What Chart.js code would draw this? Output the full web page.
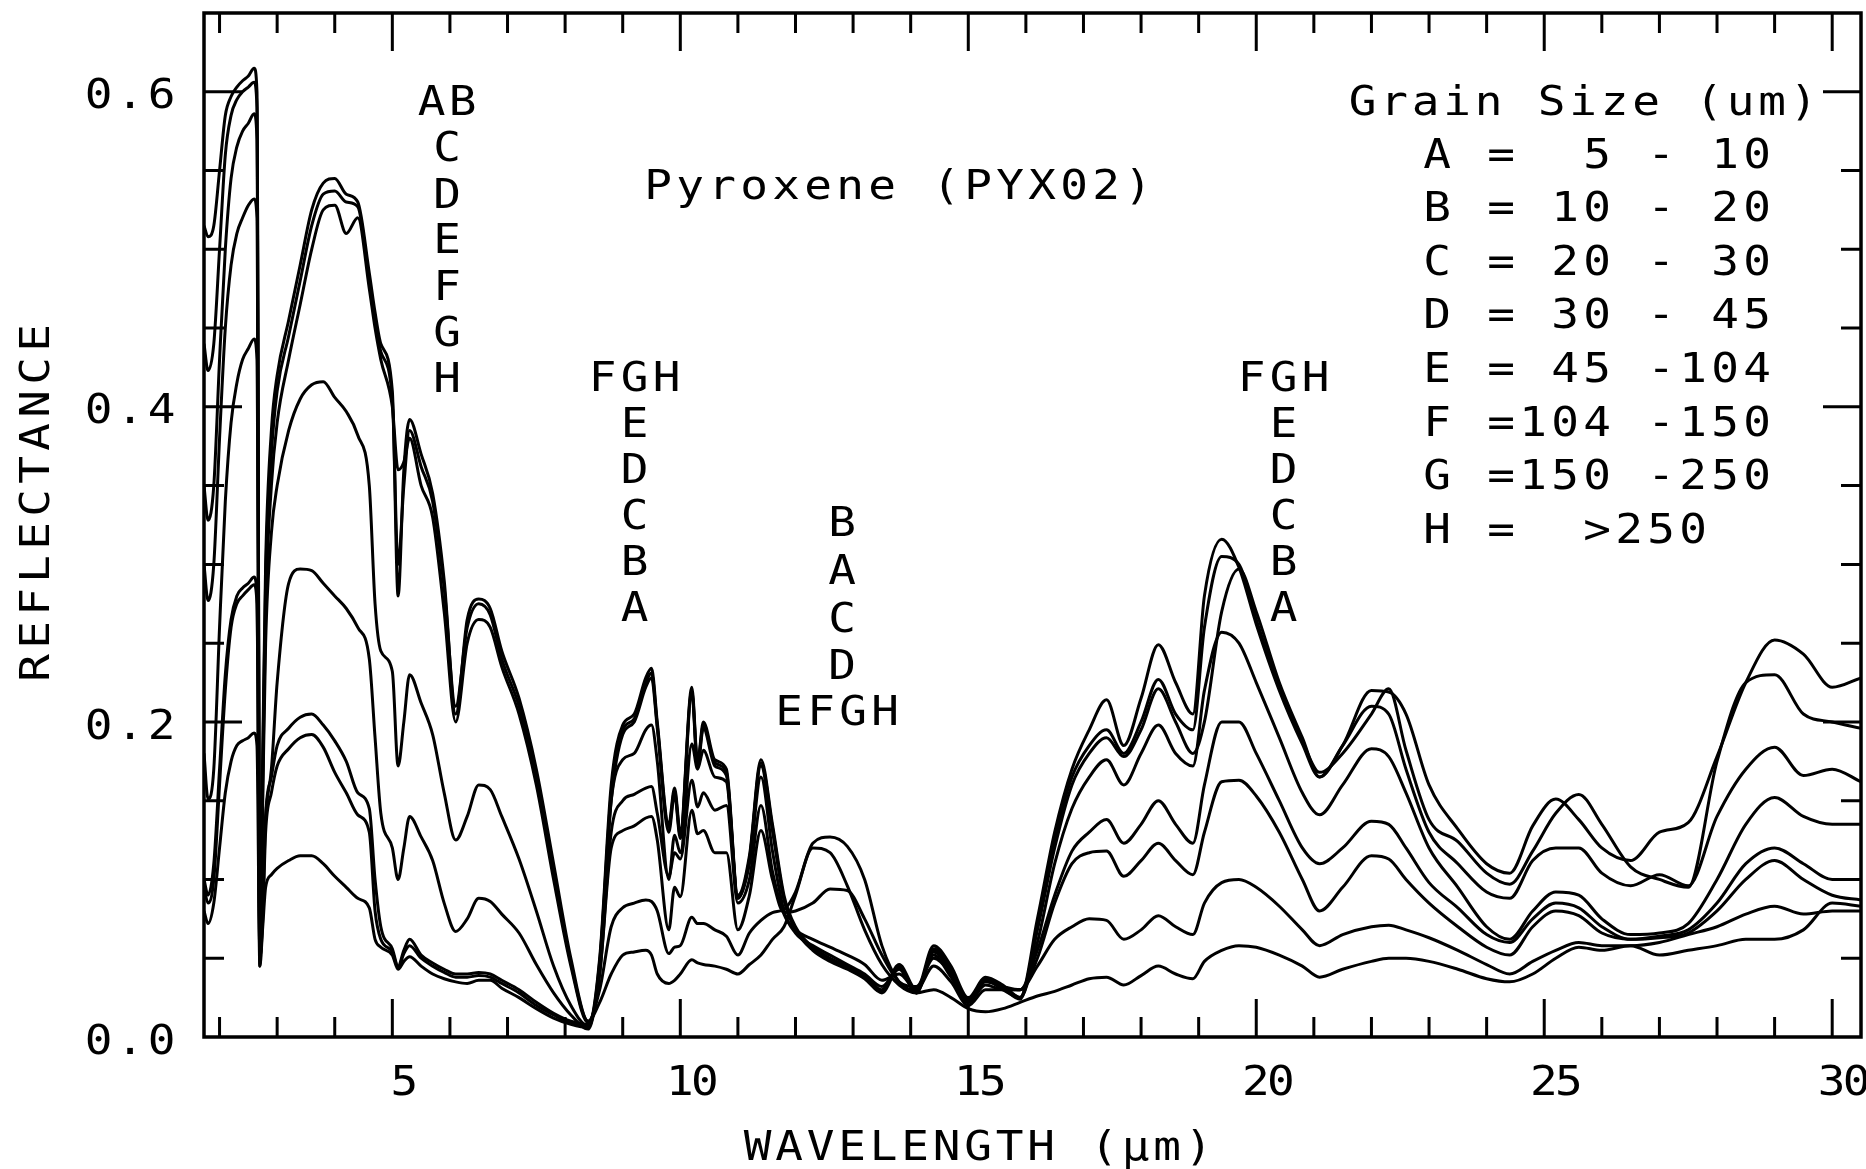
<!DOCTYPE html>
<html>
<head>
<meta charset="utf-8">
<script src="https://cdn.jsdelivr.net/npm/chart.js@4.4.1/dist/chart.umd.min.js"></script>
<style>
  html, body { margin: 0; padding: 0; background: #ffffff; }
  #wrap { width: 1866px; height: 1169px; }
</style>
</head>
<body>
<div id="wrap"><canvas id="myChart" width="1866" height="1169"></canvas></div>
<script>
// wavelength grid (um)
const wavelength = [
  1.73, 1.8, 1.9, 2.0, 2.1, 2.2, 2.3, 2.4, 2.5, 2.6, 2.65, 2.7, 2.75, 2.8, 2.9,
  3.0, 3.2, 3.4, 3.6, 3.8, 4.0, 4.2, 4.4, 4.6, 4.7,
  4.8, 5.0, 5.1, 5.2, 5.3, 5.5, 5.7, 5.9, 6.1, 6.3,
  6.5, 6.7, 6.9, 7.2, 7.5, 7.8, 8.1, 8.4, 8.6, 8.8,
  9.0, 9.2, 9.4, 9.5, 9.6, 9.8, 9.9, 10.0, 10.2, 10.3,
  10.4, 10.6, 10.8, 11.0, 11.2, 11.4, 11.6, 11.8, 12.0, 12.3,
  12.6, 12.9, 13.2, 13.5, 13.8, 14.1, 14.4, 14.7, 15.0, 15.3,
  15.6, 15.9, 16.2, 16.5, 16.8, 17.1, 17.4, 17.7, 18.0, 18.3,
  18.6, 18.9, 19.1, 19.4, 19.7, 20.0, 20.4, 20.8, 21.1, 21.5,
  22.0, 22.3, 22.6, 23.0, 23.5, 24.0, 24.4, 24.8, 25.2, 25.6,
  26.0, 26.5, 27.0, 27.5, 28.0, 28.5, 29.0, 29.5, 30.0, 30.5
];

// reflectance, grain size A (finest) .. H (coarsest)
const reflA = [
  0.515, 0.508, 0.515, 0.55, 0.585, 0.597, 0.603, 0.607, 0.61, 0.615, 0.60, 0.05, 0.18, 0.30, 0.385,
  0.42, 0.455, 0.49, 0.525, 0.542, 0.545, 0.535, 0.53, 0.485, 0.46,
  0.44, 0.41, 0.28, 0.36, 0.392, 0.37, 0.345, 0.29, 0.205, 0.265,
  0.278, 0.272, 0.245, 0.215, 0.17, 0.11, 0.05, 0.01, 0.022, 0.04,
  0.052, 0.054, 0.055, 0.052, 0.04, 0.034, 0.036, 0.04, 0.049, 0.047,
  0.046, 0.045, 0.043, 0.04, 0.046, 0.052, 0.062, 0.07, 0.09, 0.12,
  0.117, 0.096, 0.068, 0.046, 0.033, 0.028, 0.03, 0.025, 0.018, 0.016,
  0.018, 0.022, 0.026, 0.029, 0.033, 0.037, 0.038, 0.033, 0.039, 0.045,
  0.04, 0.037, 0.048, 0.055, 0.058, 0.057, 0.052, 0.045, 0.038, 0.043,
  0.048, 0.05, 0.05, 0.048, 0.043, 0.037, 0.035, 0.04, 0.05, 0.057,
  0.055, 0.058, 0.052, 0.055, 0.058, 0.062, 0.062, 0.068, 0.085, 0.083
];
const reflB = [
  0.44, 0.423, 0.44, 0.50, 0.56, 0.585, 0.595, 0.60, 0.603, 0.606, 0.59, 0.055, 0.17, 0.29, 0.37,
  0.41, 0.445, 0.48, 0.515, 0.535, 0.537, 0.53, 0.527, 0.48, 0.455,
  0.435, 0.405, 0.30, 0.35, 0.385, 0.362, 0.34, 0.285, 0.21, 0.26,
  0.275, 0.268, 0.24, 0.21, 0.165, 0.105, 0.047, 0.01, 0.03, 0.07,
  0.082, 0.085, 0.087, 0.086, 0.08, 0.053, 0.057, 0.058, 0.076, 0.072,
  0.072, 0.068, 0.064, 0.052, 0.066, 0.074, 0.079, 0.081, 0.092, 0.123,
  0.127, 0.121, 0.1, 0.058, 0.035, 0.03, 0.045, 0.035, 0.02, 0.03,
  0.03, 0.03, 0.045, 0.062, 0.07, 0.075, 0.074, 0.062, 0.068, 0.077,
  0.07, 0.065, 0.085, 0.098, 0.1, 0.095, 0.083, 0.068, 0.058, 0.065,
  0.07, 0.071, 0.068, 0.063, 0.055, 0.046, 0.04, 0.048, 0.055, 0.06,
  0.058, 0.058, 0.06, 0.065, 0.07, 0.078, 0.083, 0.078, 0.08, 0.08
];
const reflC = [
  0.35, 0.328, 0.35, 0.43, 0.50, 0.545, 0.565, 0.575, 0.58, 0.586, 0.57, 0.05, 0.16, 0.27, 0.35,
  0.39, 0.43, 0.465, 0.50, 0.525, 0.528, 0.51, 0.52, 0.475, 0.45,
  0.43, 0.40, 0.36, 0.365, 0.38, 0.35, 0.33, 0.27, 0.20, 0.25,
  0.265, 0.26, 0.235, 0.205, 0.16, 0.10, 0.045, 0.009, 0.04, 0.12,
  0.131, 0.134, 0.139, 0.14, 0.125, 0.068, 0.095, 0.089, 0.144, 0.129,
  0.131, 0.117, 0.117, 0.068, 0.09, 0.131, 0.10, 0.079, 0.08, 0.085,
  0.094, 0.093, 0.075, 0.052, 0.035, 0.032, 0.05, 0.04, 0.022, 0.033,
  0.03, 0.03, 0.05, 0.085, 0.11, 0.117, 0.118, 0.102, 0.112, 0.123,
  0.112, 0.103, 0.13, 0.162, 0.163, 0.153, 0.13, 0.1, 0.08, 0.095,
  0.115, 0.113, 0.1, 0.085, 0.07, 0.057, 0.052, 0.07, 0.08, 0.077,
  0.066, 0.062, 0.063, 0.066, 0.08, 0.1, 0.112, 0.1, 0.09, 0.087
];
const reflD = [
  0.30, 0.277, 0.30, 0.38, 0.45, 0.49, 0.51, 0.52, 0.528, 0.532, 0.52, 0.05, 0.15, 0.25, 0.32,
  0.35, 0.385, 0.405, 0.414, 0.416, 0.406, 0.397, 0.382, 0.35, 0.275,
  0.245, 0.232, 0.172, 0.20, 0.23, 0.212, 0.192, 0.155, 0.125, 0.14,
  0.16, 0.157, 0.14, 0.113, 0.08, 0.045, 0.02, 0.007, 0.04, 0.13,
  0.15, 0.154, 0.158, 0.159, 0.142, 0.102, 0.117, 0.113, 0.163, 0.146,
  0.155, 0.144, 0.147, 0.085, 0.10, 0.147, 0.105, 0.078, 0.068, 0.062,
  0.057, 0.052, 0.046, 0.036, 0.04, 0.03, 0.052, 0.038, 0.022, 0.035,
  0.032, 0.03, 0.055, 0.09, 0.118, 0.13, 0.138, 0.123, 0.135, 0.15,
  0.135, 0.123, 0.16, 0.20, 0.20, 0.18, 0.15, 0.12, 0.11, 0.12,
  0.137, 0.135, 0.12, 0.098, 0.082, 0.065, 0.06, 0.075, 0.085, 0.082,
  0.07, 0.062, 0.064, 0.068, 0.085, 0.11, 0.12, 0.11, 0.10, 0.10
];
const reflE = [
  0.18, 0.151, 0.17, 0.26, 0.34, 0.39, 0.415, 0.43, 0.437, 0.443, 0.43, 0.045, 0.10, 0.14, 0.17,
  0.225, 0.288, 0.297, 0.296, 0.288, 0.28, 0.272, 0.26, 0.24, 0.19,
  0.142, 0.12, 0.10, 0.12, 0.14, 0.127, 0.112, 0.085, 0.067, 0.075,
  0.088, 0.086, 0.078, 0.066, 0.046, 0.028, 0.014, 0.005, 0.045, 0.15,
  0.176, 0.18, 0.195, 0.198, 0.175, 0.10, 0.128, 0.117, 0.186, 0.17,
  0.182, 0.165, 0.162, 0.088, 0.11, 0.165, 0.118, 0.08, 0.066, 0.058,
  0.052, 0.046, 0.04, 0.032, 0.043, 0.028, 0.055, 0.04, 0.024, 0.036,
  0.03, 0.025, 0.06, 0.11, 0.145, 0.165, 0.176, 0.16, 0.18, 0.198,
  0.18, 0.172, 0.22, 0.257, 0.25, 0.225, 0.19, 0.155, 0.141, 0.16,
  0.183, 0.178, 0.155, 0.12, 0.095, 0.07, 0.062, 0.08, 0.092, 0.09,
  0.075, 0.065, 0.066, 0.072, 0.10, 0.135, 0.152, 0.14, 0.135, 0.135
];
const reflF = [
  0.10, 0.09, 0.11, 0.17, 0.23, 0.265, 0.28, 0.285, 0.288, 0.292, 0.28, 0.05, 0.08, 0.14, 0.165,
  0.185, 0.196, 0.203, 0.205, 0.198, 0.188, 0.175, 0.155, 0.145, 0.10,
  0.07, 0.056, 0.045, 0.055, 0.062, 0.052, 0.047, 0.043, 0.04, 0.04,
  0.041, 0.04, 0.036, 0.03, 0.022, 0.015, 0.01, 0.008, 0.05, 0.16,
  0.198, 0.205, 0.228, 0.234, 0.20, 0.135, 0.158, 0.13, 0.222, 0.175,
  0.20, 0.176, 0.17, 0.09, 0.115, 0.176, 0.135, 0.09, 0.07, 0.057,
  0.05, 0.045, 0.039, 0.03, 0.046, 0.03, 0.058, 0.045, 0.025, 0.038,
  0.033, 0.025, 0.075, 0.13, 0.17, 0.195, 0.214, 0.185, 0.215, 0.249,
  0.225, 0.205, 0.28, 0.316, 0.298, 0.262, 0.22, 0.186, 0.165, 0.185,
  0.22, 0.219, 0.205, 0.16, 0.132, 0.11, 0.104, 0.134, 0.151, 0.138,
  0.12, 0.112, 0.13, 0.136, 0.178, 0.225, 0.252, 0.243, 0.222, 0.228
];
const reflG = [
  0.095, 0.085, 0.10, 0.16, 0.22, 0.26, 0.275, 0.28, 0.284, 0.287, 0.275, 0.05, 0.075, 0.13, 0.155,
  0.172, 0.183, 0.19, 0.192, 0.184, 0.168, 0.155, 0.141, 0.13, 0.08,
  0.062, 0.054, 0.044, 0.053, 0.058, 0.05, 0.045, 0.041, 0.038, 0.038,
  0.039, 0.038, 0.034, 0.028, 0.02, 0.014, 0.009, 0.007, 0.048, 0.155,
  0.195, 0.202, 0.225, 0.231, 0.198, 0.133, 0.156, 0.128, 0.22, 0.173,
  0.198, 0.174, 0.168, 0.089, 0.113, 0.174, 0.133, 0.088, 0.069, 0.056,
  0.049, 0.044, 0.038, 0.029, 0.045, 0.029, 0.056, 0.043, 0.024, 0.037,
  0.032, 0.025, 0.07, 0.125, 0.165, 0.185, 0.195, 0.18, 0.2, 0.227,
  0.205, 0.195, 0.26, 0.305, 0.30, 0.265, 0.222, 0.188, 0.168, 0.18,
  0.205, 0.221, 0.182, 0.138, 0.124, 0.104, 0.097, 0.118, 0.142, 0.154,
  0.135, 0.108, 0.10, 0.095, 0.175, 0.225, 0.23, 0.205, 0.2, 0.196
];
const reflH = [
  0.08, 0.072, 0.085, 0.12, 0.155, 0.175, 0.185, 0.188, 0.19, 0.193, 0.185, 0.045, 0.07, 0.095, 0.103,
  0.107, 0.112, 0.115, 0.115, 0.11, 0.102, 0.095, 0.088, 0.082, 0.062,
  0.057, 0.052, 0.043, 0.048, 0.051, 0.045, 0.04, 0.037, 0.035, 0.034,
  0.036, 0.036, 0.031, 0.025, 0.018, 0.012, 0.008, 0.006, 0.045, 0.15,
  0.192, 0.2, 0.222, 0.228, 0.196, 0.13, 0.154, 0.126, 0.218, 0.171,
  0.196, 0.172, 0.166, 0.088, 0.112, 0.172, 0.131, 0.087, 0.068, 0.055,
  0.048, 0.043, 0.037, 0.028, 0.044, 0.028, 0.054, 0.042, 0.023, 0.036,
  0.031, 0.024, 0.068, 0.12, 0.16, 0.18, 0.19, 0.178, 0.195, 0.221,
  0.2, 0.18, 0.2, 0.27, 0.297, 0.27, 0.225, 0.19, 0.165, 0.185,
  0.21, 0.205, 0.17, 0.13, 0.11, 0.092, 0.088, 0.112, 0.12, 0.12,
  0.104, 0.096, 0.103, 0.096, 0.14, 0.17, 0.184, 0.166, 0.17, 0.162
];

const seriesNames = ['A', 'B', 'C', 'D', 'E', 'F', 'G', 'H'];
const seriesValues = [reflA, reflB, reflC, reflD, reflE, reflF, reflG, reflH];

// axes
const xMin = 1.73, xMax = 30.5;
const yMin = 0, yMax = 0.65;
const xMajorTicks = [5, 10, 15, 20, 25, 30];
const xTickLabels = ['5', '10', '15', '20', '25', '30'];
const yMajorTicks = [0.0, 0.2, 0.4, 0.6];
const yTickLabels = ['0.0', '0.2', '0.4', '0.6'];

// text on the plot
const plotTitle = 'Pyroxene (PYX02)';
const legendTitle = 'Grain Size (um)';
const legendRows = [
  'A =  5 - 10',
  'B = 10 - 20',
  'C = 20 - 30',
  'D = 30 - 45',
  'E = 45 -104',
  'F =104 -150',
  'G =150 -250',
  'H =  >250'
];
const labelsNear6 = ['AB', 'C', 'D', 'E', 'F', 'G', 'H'];
const labelsNear9 = ['FGH', 'E', 'D', 'C', 'B', 'A'];
const labelsNear12 = ['B', 'A', 'C', 'D', 'EFGH'];
const labelsNear20 = ['FGH', 'E', 'D', 'C', 'B', 'A'];

const FONT = '40px "DejaVu Sans Mono", "Liberation Mono", monospace';
const CAP = 14.6;      // half cap height, to centre letters on a y
const WIDEN = 1.15;    // the plotter font is a little wider than DejaVu

function glyph(ctx, ch, x, y) {
  ctx.save();
  ctx.translate(x, y + CAP);
  ctx.scale(WIDEN, 1);
  ctx.fillText(ch, 0, 0);
  ctx.restore();
}

function spaced(ctx, text, cx, cy, pitch) {
  const x0 = cx - (text.length - 1) * pitch / 2;
  for (let i = 0; i < text.length; i++) {
    if (text[i] !== ' ') glyph(ctx, text[i], x0 + i * pitch, cy);
  }
}

function spacedLeft(ctx, text, x0, cy, pitch) {
  for (let i = 0; i < text.length; i++) {
    if (text[i] !== ' ') glyph(ctx, text[i], x0 + i * pitch, cy);
  }
}

const framePlugin = {
  id: 'frameAndText',
  afterDraw(chart) {
    const ctx = chart.ctx;
    const area = chart.chartArea;
    const xs = chart.scales.x;
    const ys = chart.scales.y;

    ctx.save();
    ctx.strokeStyle = '#000';
    ctx.fillStyle = '#000';
    ctx.lineCap = 'butt';

    // frame
    ctx.lineWidth = 3.5;
    ctx.strokeRect(area.left, area.top, area.right - area.left, area.bottom - area.top);

    // inward ticks on all four sides
    ctx.lineWidth = 3;
    ctx.beginPath();
    for (let v = 2; v <= 30; v++) {
      const px = xs.getPixelForValue(v);
      const len = v % 5 === 0 ? 38 : 20;
      ctx.moveTo(px, area.bottom);
      ctx.lineTo(px, area.bottom - len);
      ctx.moveTo(px, area.top);
      ctx.lineTo(px, area.top + len);
    }
    for (let k = 1; k <= 12; k++) {
      const py = ys.getPixelForValue(k * 0.05);
      const len = k % 4 === 0 ? 38 : 20;
      ctx.moveTo(area.left, py);
      ctx.lineTo(area.left + len, py);
      ctx.moveTo(area.right, py);
      ctx.lineTo(area.right - len, py);
    }
    ctx.stroke();

    ctx.font = FONT;
    ctx.textAlign = 'center';
    ctx.textBaseline = 'alphabetic';

    // tick labels
    xMajorTicks.forEach((v, i) => {
      spaced(ctx, xTickLabels[i], xs.getPixelForValue(v) + 12, 1080, 25);
    });
    yMajorTicks.forEach((v, i) => {
      spaced(ctx, yTickLabels[i], 130, ys.getPixelForValue(v) + 2, 31.5);
    });

    // axis titles
    spaced(ctx, 'WAVELENGTH (\u03bcm)', 978, 1145, 31.5);
    ctx.save();
    ctx.translate(34, 503);
    ctx.rotate(-Math.PI / 2);
    spaced(ctx, 'REFLECTANCE', 0, 0, 33);
    ctx.restore();

    // title and legend
    spaced(ctx, plotTitle, 898, 184, 32);
    spaced(ctx, legendTitle, 1583, 100, 31.5);
    legendRows.forEach((row, i) => {
      spacedLeft(ctx, row, 1437, 153 + i * 53.6, 32);
    });

    // curve labels
    const y6 = [100, 146.5, 193, 238.5, 285, 331.5, 377];
    labelsNear6.forEach((t, i) => spaced(ctx, t, 447, y6[i], 31));
    const y9 = [376, 422, 468, 514, 560, 606];
    labelsNear9.forEach((t, i) => spaced(ctx, t, 634.5, y9[i], 32));
    const y12 = [521, 569, 617, 664, 710];
    labelsNear12.forEach((t, i) => spaced(ctx, t, t.length > 1 ? 837 : 842, y12[i], 32));
    labelsNear20.forEach((t, i) => spaced(ctx, t, 1283.5, y9[i], 32));

    ctx.restore();
  }
};

function createChart() {
  const ctx = document.getElementById('myChart');

  const datasets = seriesValues.map((vals, s) => ({
    label: seriesNames[s],
    data: wavelength.map((w, j) => ({ x: w, y: vals[j] })),
    borderColor: '#000000',
    borderWidth: 3,
    pointRadius: 0,
    fill: false,
    cubicInterpolationMode: 'monotone'
  }));

  new Chart(ctx, {
    type: 'line',
    data: { datasets: datasets },
    options: {
      responsive: false,
      animation: false,
      devicePixelRatio: 1,
      layout: {
        padding: { left: 204, right: 5, top: 13, bottom: 132 }
      },
      scales: {
        x: { type: 'linear', min: xMin, max: xMax, display: false },
        y: { type: 'linear', min: yMin, max: yMax, display: false }
      },
      plugins: {
        legend: { display: false },
        tooltip: { enabled: false }
      }
    },
    plugins: [framePlugin]
  });
}

createChart();
</script>
</body>
</html>
